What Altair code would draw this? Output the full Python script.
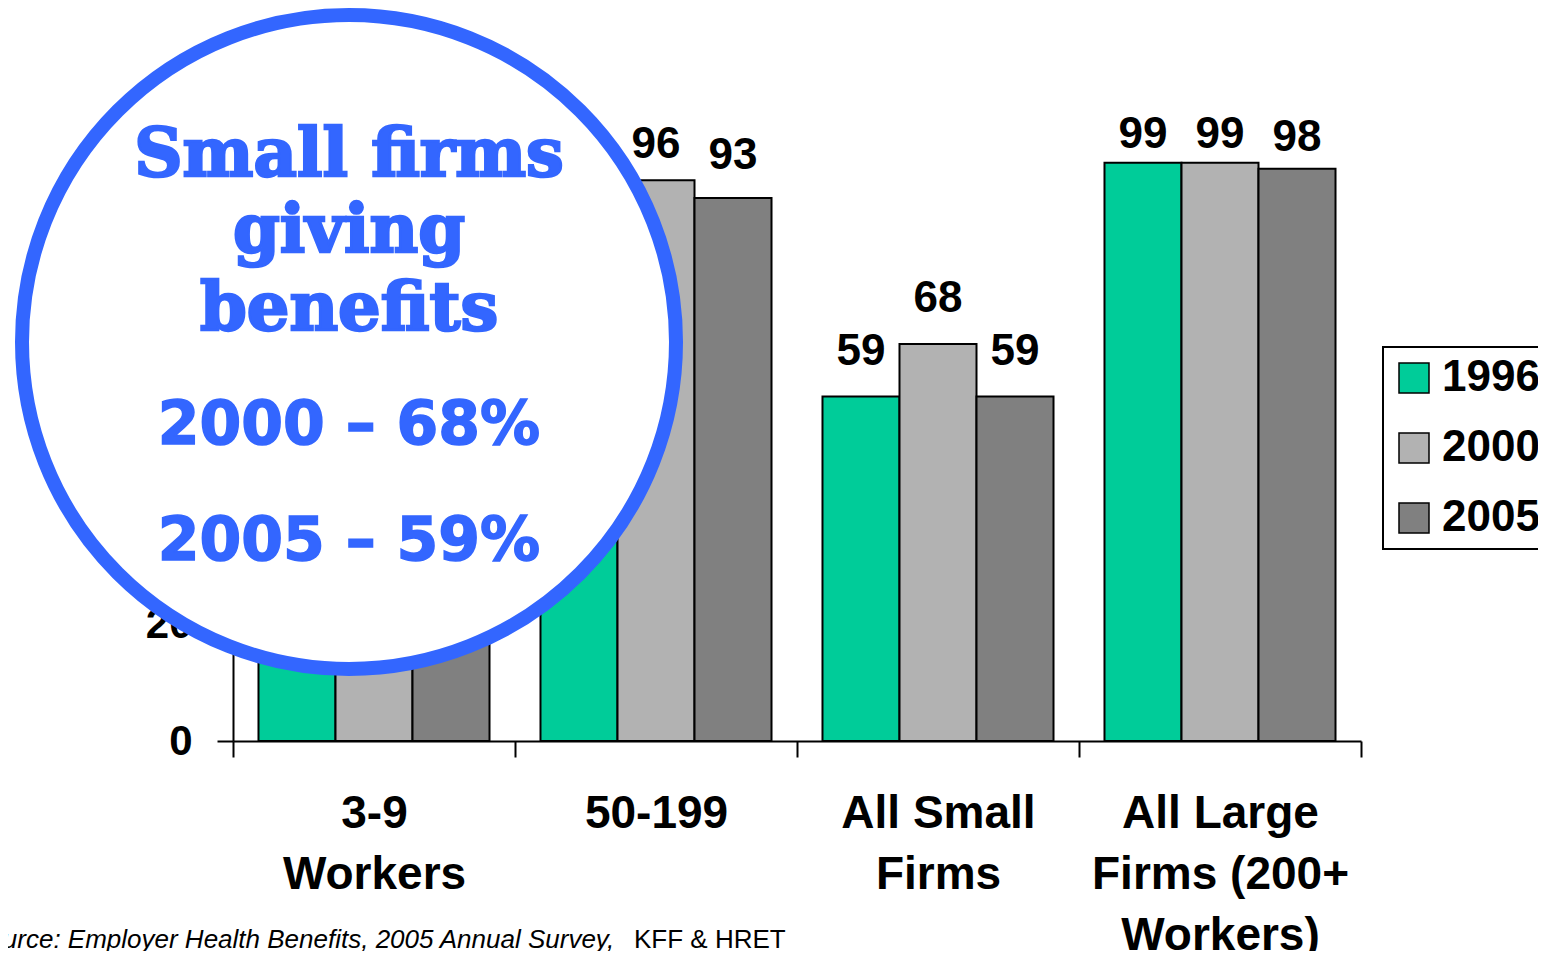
import altair as alt
import pandas as pd

# ---- data ----
categories = ["3-9\nWorkers", "50-199", "All Small\nFirms", "All Large\nFirms (200+\nWorkers)"]
years = ["1996", "2000", "2005"]
v1996 = [52, 92, 59, 99]   # first two hidden behind the callout circle (estimated)
v2000 = [57, 96, 68, 99]
v2005 = [47, 93, 59, 98]
colors = ["#00CC99", "#B2B2B2", "#808080"]

callout_title = ["Small firms", "giving", "benefits"]
callout_stats = ["2000 \u2013 68%", "2005 \u2013 59%"]
source_italic = "Source: Employer Health Benefits, 2005 Annual Survey,"
source_plain = "KFF & HRET"

rows = []
for i, c in enumerate(categories):
    for y, vals in zip(years, [v1996, v2000, v2005]):
        rows.append({"category": c, "year": y, "value": vals[i]})
df = pd.DataFrame(rows)

FONT = "Liberation Sans"
BLUE = "#3366FF"

x_enc = alt.X(
    "category:N", sort=categories,
    scale=alt.Scale(paddingInner=0, paddingOuter=0),
    axis=alt.Axis(
        title=None, labelExpr="split(datum.label, '\\n')", labelFont=FONT,
        labelFontWeight="bold", labelFontSize=46, labelColor="black",
        labelLineHeight=61, labelPadding=70, labelAngle=0, labelBaseline="alphabetic",
        labelLimit=500, labelOverlap=False,
        tickBand="extent", tickSize=16, tickColor="black", tickWidth=2,
        domainColor="black", domainWidth=2,
    ),
)
xoff_enc = alt.XOffset("year:N", sort=years, scale=alt.Scale(paddingInner=0, paddingOuter=0.331))
y_axis = alt.Axis(
    title=None, values=[0, 20, 40, 60, 80, 100], grid=False, labelFont=FONT,
    labelFontWeight="bold", labelFontSize=42, labelColor="black", labelPadding=25,
    tickSize=16, tickColor="black", tickWidth=2, domainColor="black", domainWidth=2,
)

base = alt.Chart(df)

bars = base.mark_bar(stroke="black", strokeWidth=2).encode(
    x=x_enc,
    xOffset=xoff_enc,
    y=alt.Y("value:Q", scale=alt.Scale(domain=[0, 100]), axis=y_axis),
    color=alt.Color(
        "year:N", sort=years, scale=alt.Scale(domain=years, range=colors),
        legend=alt.Legend(
            title=None, orient="none", legendX=1150, legendY=190,
            symbolType="square", symbolSize=900, symbolStrokeColor="black",
            symbolStrokeWidth=1.5, symbolOpacity=1,
            labelFontSize=44, labelFont=FONT, labelFontWeight="bold",
            labelColor="black", labelOffset=6, labelLimit=300,
            strokeColor="black", fillColor="white", padding=9, rowPadding=26,
        ),
    ),
)

labels = base.transform_calculate(
    label_y="datum.value + 5.4 - 0.4 * max(0, datum.value - 92)"
).mark_text(font=FONT, fontWeight="bold", fontSize=44, baseline="alphabetic", color="black").encode(
    x=x_enc, xOffset=xoff_enc, y=alt.Y("label_y:Q"), text=alt.Text("value:Q"),
)

circle = alt.Chart(alt.Data(values=[{"k": 1}])).mark_point(
    shape="circle", size=427716, filled=True, fill="white", stroke=BLUE,
    strokeWidth=14, opacity=1, fillOpacity=1, strokeOpacity=1,
).encode(x=alt.value(116), y=alt.value(185))

layers = [bars, labels, circle]

for t, yy in zip(callout_title, [19, 95, 173]):
    layers.append(
        alt.Chart(alt.Data(values=[{"t": t}])).mark_text(
            font="DejaVu Serif", fontWeight="bold", fontSize=67, color=BLUE,
            stroke=BLUE, strokeWidth=2.5, align="center", baseline="alphabetic",
        ).encode(x=alt.value(116), y=alt.value(yy), text="t:N")
    )
for t, yy in zip(callout_stats, [287, 403]):
    layers.append(
        alt.Chart(alt.Data(values=[{"t": t}])).mark_text(
            font="DejaVu Sans", fontWeight="bold", fontSize=60, color=BLUE,
            stroke=BLUE, strokeWidth=1.5, align="center", baseline="alphabetic",
        ).encode(x=alt.value(116), y=alt.value(yy), text="t:N")
    )

layers.append(
    alt.Chart(alt.Data(values=[{"t": source_italic}])).mark_text(
        font=FONT, fontStyle="italic", fontSize=26, color="black",
        align="left", baseline="alphabetic",
    ).encode(x=alt.value(-262), y=alt.value(791), text="t:N")
)
layers.append(
    alt.Chart(alt.Data(values=[{"t": source_plain}])).mark_text(
        font=FONT, fontSize=26, color="black", align="left", baseline="alphabetic",
    ).encode(x=alt.value(401), y=alt.value(791), text="t:N")
)

chart = alt.layer(*layers).properties(
    width=1128, height=584,
    autosize=alt.AutoSizeParams(type="none"),
    padding={"left": 225, "top": 149, "right": 177, "bottom": 210},
    background="white",
).configure_view(strokeWidth=0).configure_legend(strokeWidth=2)

chart.save("out.html", embed_options={"renderer": "svg", "actions": False})
